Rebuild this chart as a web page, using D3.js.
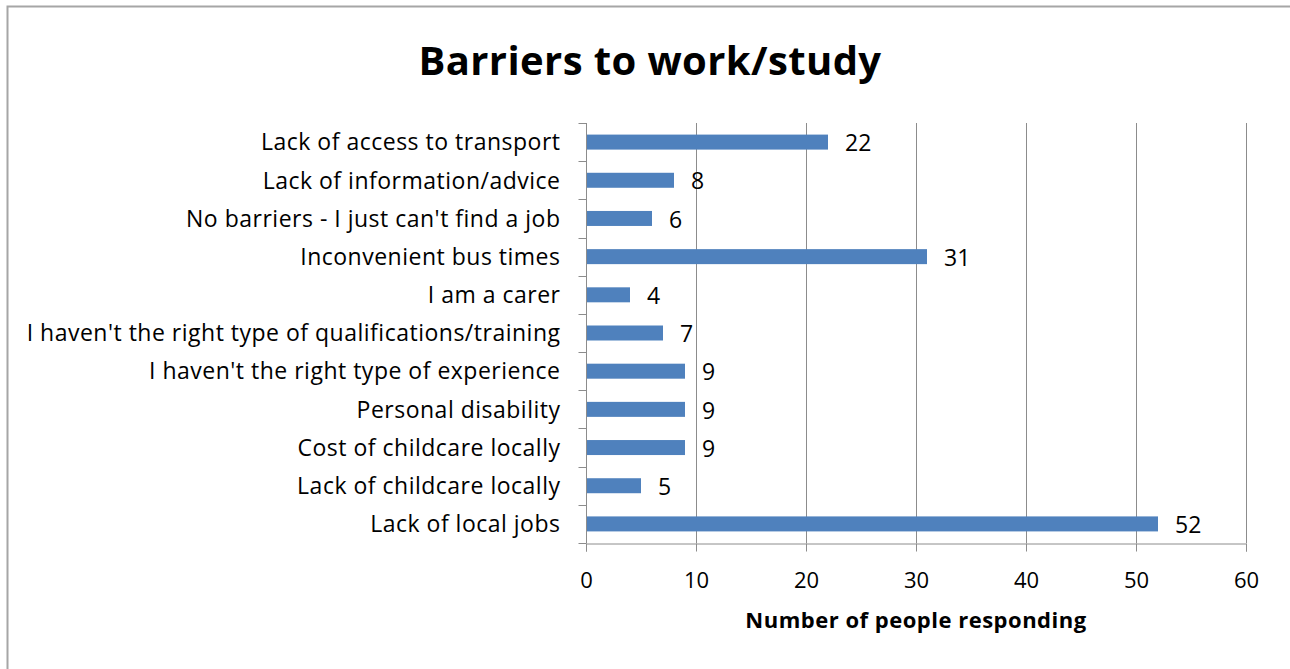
<!DOCTYPE html>
<html>
<head>
<meta charset="utf-8">
<script src="https://cdn.jsdelivr.net/npm/d3@7"></script>
<style>
  html, body { margin: 0; padding: 0; background: #fff; }
  svg { display: block; }
  text { font-family: "Open Sans", Lato, sans-serif; fill: #000; }
</style>
</head>
<body>
<svg id="chart" width="1290" height="669"></svg>
<script>
// Survey responses: barriers to work or study
const categories = [
  "Lack of access to transport",
  "Lack of information/advice",
  "No barriers - I just can't find a job",
  "Inconvenient bus times",
  "I am a carer",
  "I haven't the right type of qualifications/training",
  "I haven't the right type of experience",
  "Personal disability",
  "Cost of childcare locally",
  "Lack of childcare locally",
  "Lack of local jobs"
];
const responses = [22, 8, 6, 31, 4, 7, 9, 9, 9, 5, 52];
const xTicks = [0, 10, 20, 30, 40, 50, 60];

const chartTitle = "Barriers to work/study";
const xAxisTitle = "Number of people responding";

const svg = d3.select("#chart");
const W = 1290, H = 669;

// Outer chart frame
svg.append("rect")
  .attr("x", 7.5).attr("y", 6.5)
  .attr("width", W).attr("height", H)
  .attr("fill", "#fff")
  .attr("stroke", "#a6a6a6").attr("stroke-width", 2);

const plot = { left: 586, right: 1246, top: 123, bottom: 543 };

const x = d3.scaleLinear().domain([0, 60]).range([plot.left, plot.right]);
const yEdges = d3.scaleLinear().domain([0, categories.length]).range([plot.top, plot.bottom]);

// Title
svg.append("text")
  .attr("x", 650).attr("y", 75)
  .attr("text-anchor", "middle")
  .style("font-size", "40px").style("font-weight", "bold")
  .style("letter-spacing", "0.4px")
  .text(chartTitle);

// Vertical gridlines
svg.append("g").selectAll("line")
  .data(xTicks.filter(d => d > 0))
  .join("line")
  .attr("x1", d => Math.round(x(d)) + 0.5).attr("x2", d => Math.round(x(d)) + 0.5)
  .attr("y1", plot.top).attr("y2", plot.bottom)
  .attr("stroke", "#8c8c8c").attr("stroke-width", 1);

// Bars
const bandStep = (plot.bottom - plot.top) / categories.length;
const barH = 15;
svg.append("g").selectAll("rect")
  .data(categories)
  .join("rect")
  .attr("x", x(0))
  .attr("y", (d, i) => yEdges(i) + bandStep / 2 - barH / 2)
  .attr("width", (d, i) => x(responses[i]) - x(0))
  .attr("height", barH)
  .attr("fill", "#4f81bd");

// Value labels
svg.append("g").selectAll("text")
  .data(categories)
  .join("text")
  .attr("x", (d, i) => x(responses[i]) + 17)
  .attr("y", (d, i) => yEdges(i) + bandStep / 2)
  .attr("dy", "0.4em")
  .style("font-size", "23px")
  .text((d, i) => responses[i]);

// Category axis
const yAxis = svg.append("g").attr("transform", `translate(${plot.left + 0.5},0)`);
yAxis.append("line")
  .attr("x1", 0).attr("x2", 0)
  .attr("y1", plot.top).attr("y2", plot.bottom)
  .attr("stroke", "#8c8c8c");
yAxis.selectAll("line.tick")
  .data(d3.range(categories.length + 1))
  .join("line").attr("class", "tick")
  .attr("x1", -8).attr("x2", 0)
  .attr("y1", i => Math.round(yEdges(i)) + 0.5).attr("y2", i => Math.round(yEdges(i)) + 0.5)
  .attr("stroke", "#8c8c8c");
yAxis.selectAll("text")
  .data(categories)
  .join("text")
  .attr("x", -26)
  .attr("y", (d, i) => yEdges(i) + bandStep / 2)
  .attr("dy", "0.36em")
  .attr("text-anchor", "end")
  .style("font-size", "23px")
  .style("letter-spacing", "0.5px")
  .text(d => d);

// Value axis
const xAxis = svg.append("g")
  .attr("transform", `translate(0,${plot.bottom + 0.5})`)
  .call(d3.axisBottom(x).tickValues(xTicks).tickSize(8).tickPadding(21).tickFormat(d3.format("d")));
xAxis.select(".domain").attr("stroke", "#8c8c8c");
xAxis.selectAll(".tick line").attr("stroke", "#8c8c8c");
xAxis.selectAll(".tick text")
  .style("font-size", "22px")
  .style("font-family", "'Open Sans', Lato, sans-serif")
  .attr("fill", "#000");

// Axis title
svg.append("text")
  .attr("x", (plot.left + plot.right) / 2).attr("y", 628)
  .attr("text-anchor", "middle")
  .style("font-size", "22px").style("font-weight", "bold")
  .style("letter-spacing", "0.5px")
  .text(xAxisTitle);
</script>
</body>
</html>
